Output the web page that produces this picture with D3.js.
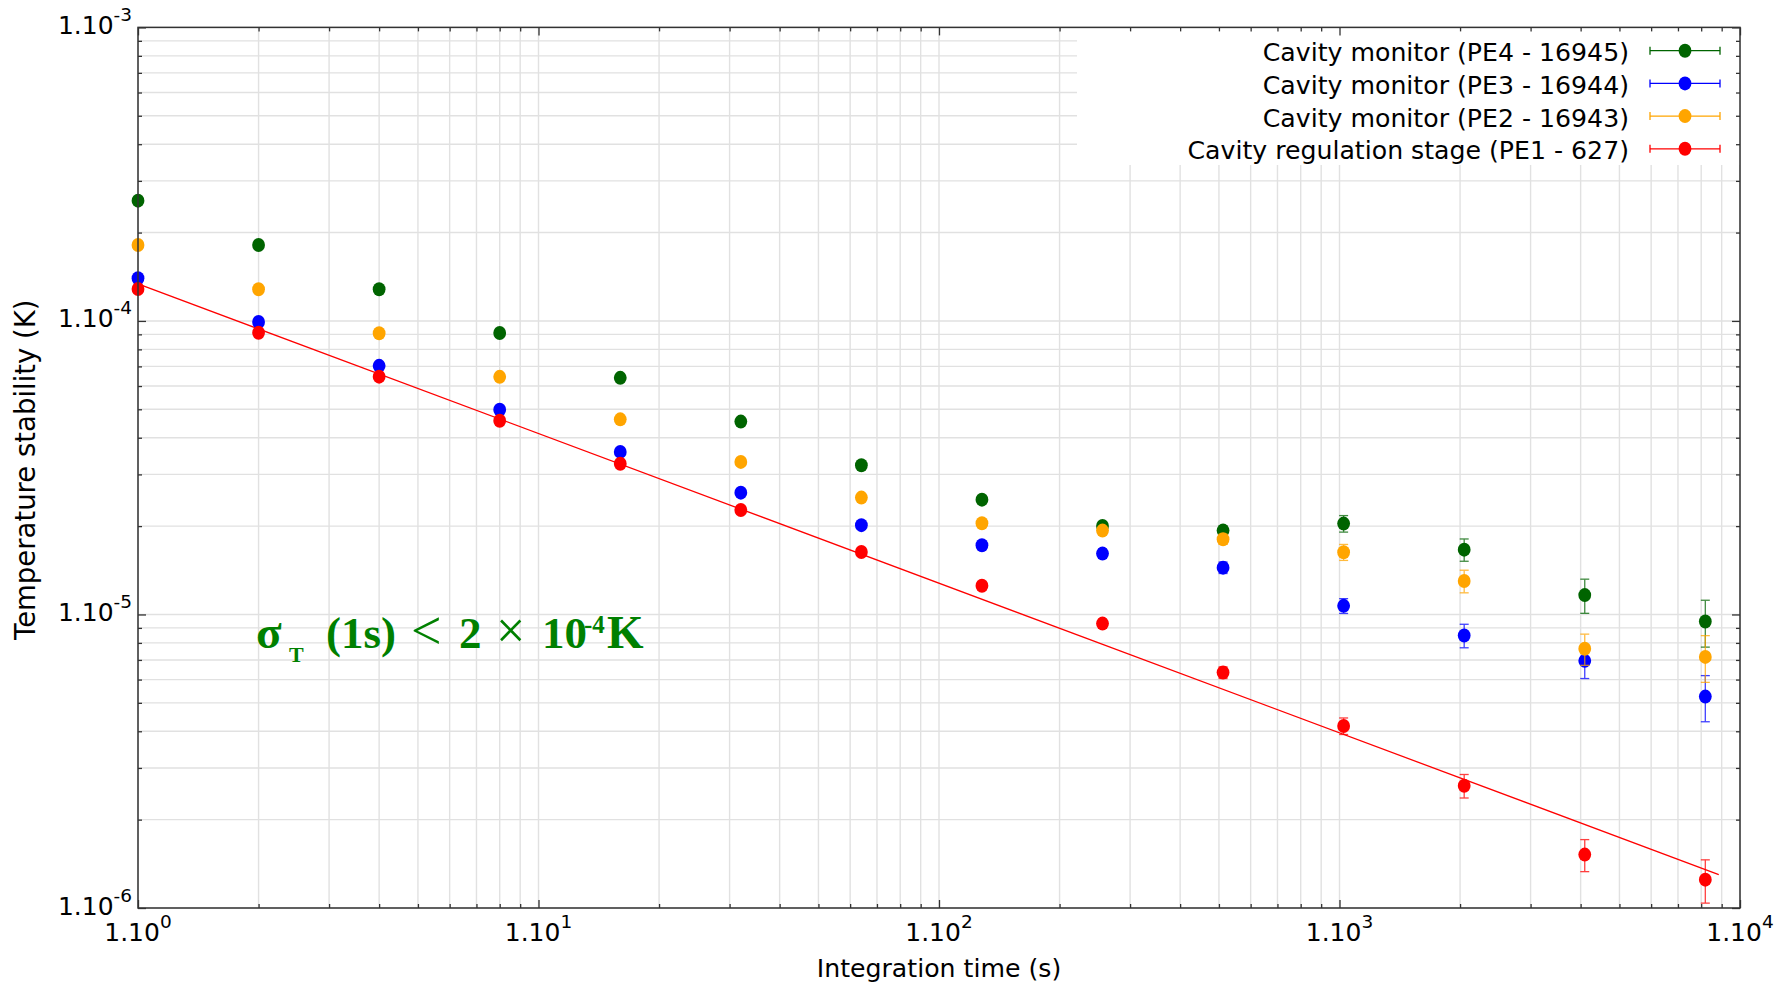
<!DOCTYPE html>
<html>
<head>
<meta charset="utf-8">
<script src="https://cdn.jsdelivr.net/npm/d3@7"></script>
<style>
  html, body { margin: 0; padding: 0; background: #fff; }
  svg { display: block; }
  text { font-family: "DejaVu Sans", sans-serif; fill: #000; }
  text.ann { font-family: "Liberation Serif", "DejaVu Serif", serif; font-weight: bold; fill: #008000; }
</style>
</head>
<body>
<svg id="chart" width="1789" height="986"></svg>
<script>
// ---------------- data ----------------
const tau = [1, 2, 4, 8, 16, 32, 64, 128, 256, 512, 1024, 2048, 4096, 8192];

const pe4 = [2.569e-4, 1.815e-4, 1.282e-4, 9.10e-5, 6.40e-5, 4.54e-5, 3.224e-5, 2.461e-5, 2.003e-5, 1.931e-5, 2.04e-5, 1.663e-5, 1.164e-5, 9.46e-6];
const pe4Err = [1.0e-6, 1.1e-6, 1.0e-6, 1.0e-6, 9.6e-7, 9.0e-7, 7.7e-7, 6.4e-7, 6.0e-7, 7.7e-7, 1.32e-6, 1.45e-6, 1.55e-6, 1.72e-6];

const pe3 = [1.397e-4, 9.92e-5, 7.03e-5, 4.98e-5, 3.58e-5, 2.60e-5, 2.015e-5, 1.722e-5, 1.612e-5, 1.444e-5, 1.07e-5, 8.48e-6, 6.95e-6, 5.25e-6];
const pe3Err = [5.5e-7, 6.0e-7, 5.5e-7, 5.5e-7, 5.4e-7, 5.2e-7, 5.0e-7, 5.2e-7, 6.0e-7, 6.5e-7, 6.2e-7, 7.8e-7, 9.0e-7, 9.4e-7];

const pe2 = [1.815e-4, 1.282e-4, 9.08e-5, 6.45e-5, 4.62e-5, 3.31e-5, 2.501e-5, 2.046e-5, 1.931e-5, 1.805e-5, 1.63e-5, 1.30e-5, 7.64e-6, 7.17e-6];
const pe2Err = [7.0e-7, 7.5e-7, 7.0e-7, 7.0e-7, 6.5e-7, 6.0e-7, 5.8e-7, 5.5e-7, 5.8e-7, 7.2e-7, 1.02e-6, 1.15e-6, 9.3e-7, 1.30e-6];

const pe1 = [1.285e-4, 9.12e-5, 6.46e-5, 4.57e-5, 3.26e-5, 2.27e-5, 1.633e-5, 1.252e-5, 9.31e-6, 6.34e-6, 4.17e-6, 2.61e-6, 1.52e-6, 1.249e-6];
const pe1Err = [5.0e-7, 5.5e-7, 5.0e-7, 5.0e-7, 4.9e-7, 4.5e-7, 4.1e-7, 3.8e-7, 3.3e-7, 2.9e-7, 2.7e-7, 2.4e-7, 1.9e-7, 2.1e-7];

// fitted line of the regulation stage
const fitTau = [1, 8850];
const fitSigma = [1.337e-4, 1.30e-6];

const seriesNames = [
  "Cavity monitor (PE4 - 16945)",
  "Cavity monitor (PE3 - 16944)",
  "Cavity monitor (PE2 - 16943)",
  "Cavity regulation stage (PE1 - 627)"
];
const seriesValues = [pe4, pe3, pe2, pe1];
const seriesErrors = [pe4Err, pe3Err, pe2Err, pe1Err];
const seriesColors = ["#006400", "#0000ff", "#ffa500", "#ff0000"];

const xTickExponents = [0, 1, 2, 3, 4];
const yTickExponents = [-3, -4, -5, -6];
const xLabel = "Integration time (s)";
const yLabel = "Temperature stability (K)";

// ---------------- layout ----------------
const W = 1789, H = 986;
const margin = { top: 27.4, left: 138, right: 49, bottom: 78 };
const x0 = margin.left, x1 = W - margin.right;
const y0 = margin.top, y1 = H - margin.bottom;

const svg = d3.select("#chart");
svg.append("rect").attr("width", W).attr("height", H).attr("fill", "#fff");

const x = d3.scaleLog().domain([1, 1e4]).range([x0, x1]);
const y = d3.scaleLog().domain([1e-6, 1e-3]).range([y1, y0]);

const xAll = x.ticks();
const yAll = y.ticks();
const isMajor = v => Math.abs(Math.log10(v) - Math.round(Math.log10(v))) < 1e-9;
const xMajor = xAll.filter(isMajor), xMinor = xAll.filter(v => !isMajor(v));
const yMajor = yAll.filter(isMajor), yMinor = yAll.filter(v => !isMajor(v));

// ---------------- grid ----------------
const grid = svg.append("g").attr("stroke", "#e1e1e1").attr("stroke-width", 1.4);
grid.selectAll("line.gx").data(xAll).join("line")
  .attr("x1", d => x(d)).attr("x2", d => x(d))
  .attr("y1", y0).attr("y2", y1);
grid.selectAll("line.gy").data(yAll).join("line")
  .attr("y1", d => y(d)).attr("y2", d => y(d))
  .attr("x1", x0).attr("x2", x1);

// ---------------- fit line ----------------
const line = d3.line().x(d => x(d[0])).y(d => y(d[1]));
svg.append("path")
  .datum(fitTau.map((t, i) => [t, fitSigma[i]]))
  .attr("d", line)
  .attr("fill", "none").attr("stroke", "#ff0000").attr("stroke-width", 1.3);

// ---------------- error bars + markers ----------------
[0, 1, 2, 3].forEach(si => {
  const vals = seriesValues[si], errs = seriesErrors[si], col = seriesColors[si];
  const g = svg.append("g");
  const pts = tau.map((t, i) => ({ t, v: vals[i], e: errs[i] }));
  const eb = g.append("g").attr("stroke", col).attr("stroke-width", 1.3).attr("opacity", 0.75);
  eb.selectAll("line.v").data(pts).join("line")
    .attr("x1", d => x(d.t)).attr("x2", d => x(d.t))
    .attr("y1", d => y(d.v + d.e)).attr("y2", d => y(d.v - d.e));
  eb.selectAll("line.c1").data(pts).join("line")
    .attr("x1", d => x(d.t) - 4.5).attr("x2", d => x(d.t) + 4.5)
    .attr("y1", d => y(d.v + d.e)).attr("y2", d => y(d.v + d.e));
  eb.selectAll("line.c2").data(pts).join("line")
    .attr("x1", d => x(d.t) - 4.5).attr("x2", d => x(d.t) + 4.5)
    .attr("y1", d => y(d.v - d.e)).attr("y2", d => y(d.v - d.e));
  g.selectAll("ellipse").data(pts).join("ellipse")
    .attr("cx", d => x(d.t)).attr("cy", d => y(d.v))
    .attr("rx", 6.4).attr("ry", 7.0).attr("fill", col);
});

// ---------------- legend ----------------
const legend = svg.append("g");
legend.append("rect")
  .attr("x", 1077).attr("y", y0)
  .attr("width", x1 - 1077).attr("height", 165 - y0)
  .attr("fill", "#fff");
seriesNames.forEach((name, i) => {
  const ry = 50.7 + i * 32.7;
  const col = seriesColors[i];
  legend.append("text")
    .attr("x", 1629).attr("y", ry + 10.5)
    .attr("text-anchor", "end")
    .attr("font-size", 25.2)
    .text(name);
  const lg = legend.append("g").attr("stroke", col).attr("stroke-width", 1.3);
  lg.append("line").attr("x1", 1650).attr("x2", 1720).attr("y1", ry).attr("y2", ry);
  lg.append("line").attr("x1", 1650).attr("x2", 1650).attr("y1", ry - 4).attr("y2", ry + 4);
  lg.append("line").attr("x1", 1720).attr("x2", 1720).attr("y1", ry - 4).attr("y2", ry + 4);
  legend.append("ellipse").attr("cx", 1685).attr("cy", ry).attr("rx", 6.4).attr("ry", 7.0).attr("fill", col);
});

// ---------------- frame & ticks ----------------
const tickCol = "#333";
function styleAxis(g) {
  g.select(".domain").remove();
  g.selectAll(".tick line").attr("stroke", tickCol).attr("stroke-width", 1.3);
  g.selectAll(".tick text").remove();
}
svg.append("g").attr("transform", `translate(0,${y1})`)
  .call(d3.axisBottom(x).tickValues(xMajor).tickSize(-8).tickFormat("")).call(styleAxis);
svg.append("g").attr("transform", `translate(0,${y1})`)
  .call(d3.axisBottom(x).tickValues(xMinor).tickSize(-4).tickFormat("")).call(styleAxis);
svg.append("g").attr("transform", `translate(0,${y0})`)
  .call(d3.axisTop(x).tickValues(xMajor).tickSize(-8).tickFormat("")).call(styleAxis);
svg.append("g").attr("transform", `translate(0,${y0})`)
  .call(d3.axisTop(x).tickValues(xMinor).tickSize(-4).tickFormat("")).call(styleAxis);
svg.append("g").attr("transform", `translate(${x0},0)`)
  .call(d3.axisLeft(y).tickValues(yMajor).tickSize(-8).tickFormat("")).call(styleAxis);
svg.append("g").attr("transform", `translate(${x0},0)`)
  .call(d3.axisLeft(y).tickValues(yMinor).tickSize(-4).tickFormat("")).call(styleAxis);
svg.append("g").attr("transform", `translate(${x1},0)`)
  .call(d3.axisRight(y).tickValues(yMajor).tickSize(-8).tickFormat("")).call(styleAxis);
svg.append("g").attr("transform", `translate(${x1},0)`)
  .call(d3.axisRight(y).tickValues(yMinor).tickSize(-4).tickFormat("")).call(styleAxis);

svg.append("rect")
  .attr("x", x0).attr("y", y0).attr("width", x1 - x0).attr("height", y1 - y0)
  .attr("fill", "none").attr("stroke", tickCol).attr("stroke-width", 1.5);

// ---------------- tick labels ----------------
function tickLabel(sel, e) {
  sel.append("tspan").attr("font-size", 25).text("1.10");
  sel.append("tspan").attr("font-size", 18.5).attr("dy", -13).text(String(e));
}
xTickExponents.forEach(e => {
  const t = svg.append("text").attr("x", x(Math.pow(10, e))).attr("y", 941)
    .attr("text-anchor", "middle");
  tickLabel(t, e);
});
yTickExponents.forEach(e => {
  const t = svg.append("text").attr("x", x0 - 6).attr("y", y(Math.pow(10, e)) + 6.5)
    .attr("text-anchor", "end");
  tickLabel(t, e);
});

// ---------------- axis labels ----------------
svg.append("text").attr("x", (x0 + x1) / 2).attr("y", 977)
  .attr("text-anchor", "middle").attr("font-size", 25.2).text(xLabel);
svg.append("text")
  .attr("transform", `translate(35,${(y0 + y1) / 2 + 2}) rotate(-90)`)
  .attr("text-anchor", "middle").attr("font-size", 27.5).text(yLabel);

// ---------------- annotation ----------------
const ann = svg.append("text").attr("class", "ann");
const annPieces = [
  { t: "\u03c3", x: 256, y: 648, s: 47, w: "bold" },
  { t: "T", x: 289, y: 662, s: 22, w: "bold" },
  { t: "(1s)", x: 326, y: 648, s: 45, w: "bold" },
  { t: "<", x: 411, y: 649, s: 54, w: "normal" },
  { t: "2", x: 459, y: 648, s: 45, w: "bold" },
  { t: "\u00d7", x: 496, y: 648, s: 52, w: "normal" },
  { t: "10", x: 542, y: 648, s: 45, w: "bold" },
  { t: "-4", x: 584, y: 633, s: 25, w: "bold" },
  { t: "K", x: 607, y: 648, s: 47, w: "bold" }
];
annPieces.forEach(p => {
  ann.append("tspan").attr("x", p.x).attr("y", p.y)
    .attr("font-size", p.s).attr("font-weight", p.w).text(p.t);
});
</script>
</body>
</html>
